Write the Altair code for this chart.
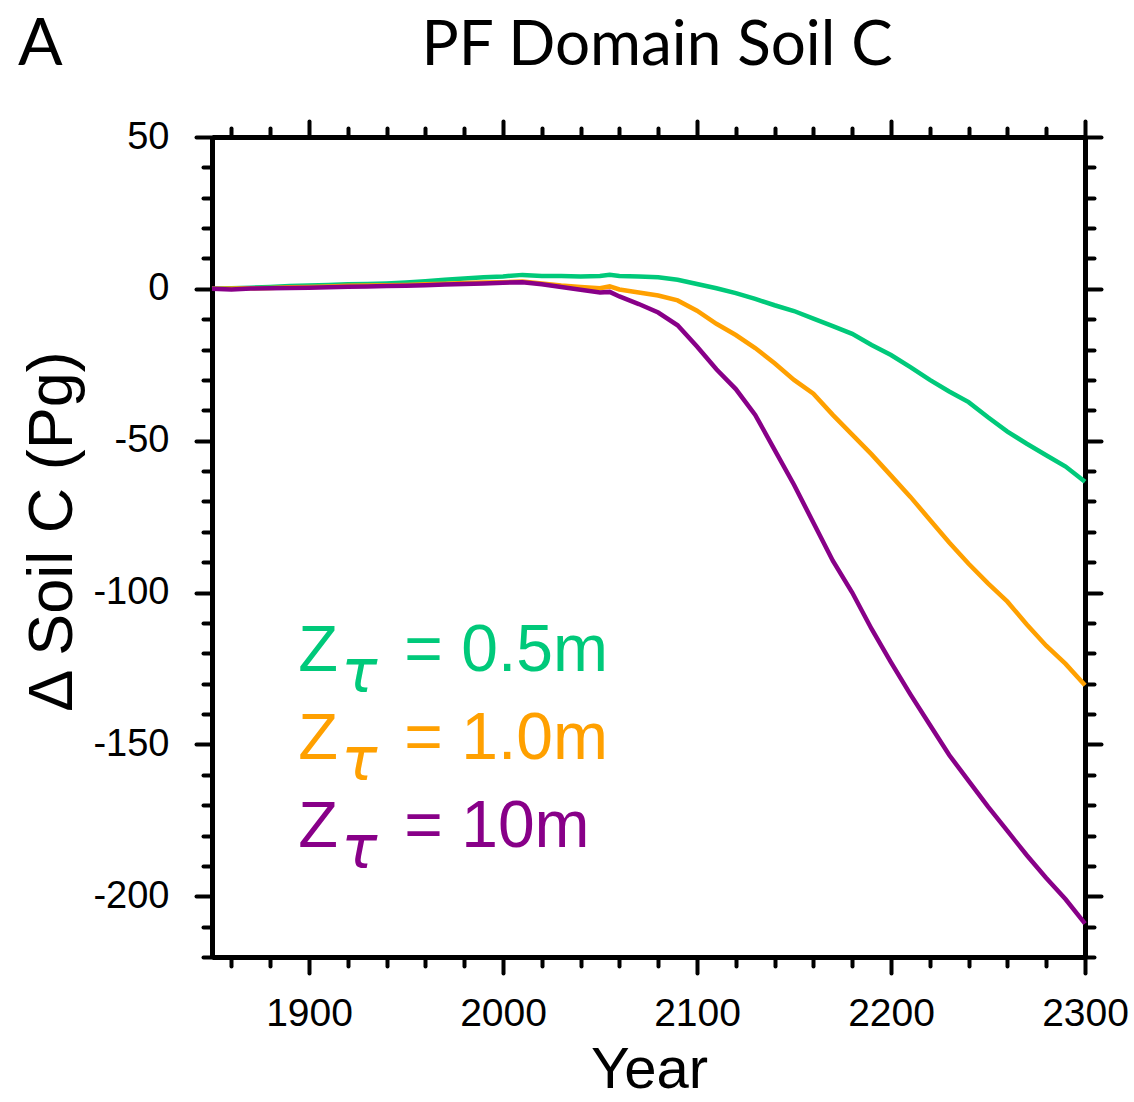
import altair as alt
import pandas as pd

# ---------------- data ----------------
years = [1850, 1860, 1870, 1880, 1890, 1900, 1910, 1920, 1930, 1940,
         1950, 1960, 1970, 1980, 1990, 2000, 2010, 2020, 2030, 2040,
         2050, 2055, 2060, 2070, 2080, 2090, 2100, 2110, 2120, 2130,
         2140, 2150, 2160, 2170, 2180, 2190, 2200, 2210, 2220, 2230,
         2240, 2250, 2260, 2270, 2280, 2290, 2300]

green = [0.0, 0.2, 0.4, 0.6, 0.9, 1.1, 1.3, 1.5, 1.6, 1.8,
         2.1, 2.5, 3.0, 3.4, 3.8, 4.1, 4.6, 4.2, 4.2, 4.1,
         4.2, 4.6, 4.2, 4.1, 3.8, 3.0, 1.6, 0.2, -1.4, -3.3,
         -5.4, -7.3, -9.8, -12.3, -14.8, -18.5, -21.8, -25.8, -30.0, -33.8,
         -37.3, -42.3, -47.0, -51.0, -54.8, -58.5, -63.5]

orange = [0.0, 0.1, 0.2, 0.3, 0.5, 0.6, 0.8, 1.0, 1.1, 1.2,
          1.3, 1.5, 1.7, 1.9, 2.1, 2.2, 2.4, 1.8, 1.1, 0.6,
          0.2, 0.8, -0.2, -1.2, -2.2, -3.8, -7.2, -11.5, -15.2, -19.5,
          -24.5, -30.0, -34.5, -41.5, -48.0, -54.5, -61.5, -68.5, -76.0, -83.5,
          -90.5, -97.0, -103.0, -110.5, -117.5, -123.5, -130.5]

purple = [0.0, -0.2, 0.1, 0.2, 0.3, 0.4, 0.5, 0.7, 0.8, 0.9,
          1.0, 1.2, 1.4, 1.6, 1.8, 2.0, 2.2, 1.5, 0.6, -0.3,
          -1.2, -1.0, -2.5, -5.0, -7.8, -12.0, -19.0, -26.5, -33.0, -41.5,
          -53.0, -64.5, -77.0, -89.5, -100.0, -112.0, -123.0, -133.5, -143.5, -153.5,
          -162.0, -170.5, -178.5, -186.5, -194.0, -201.0, -209.0]

series_names = ["0.5m", "1.0m", "10m"]
series_colors = ["#00C97A", "#FFA000", "#880088"]
legend_rest = ["= 0.5m", "= 1.0m", "= 10m"]

title_text = "PF Domain Soil C"
panel_letter = "A"
x_title = "Year"
y_title = "\u0394 Soil C (Pg)"

x_major = [1900, 2000, 2100, 2200, 2300]
x_minor = [1860, 1880, 1920, 1940, 1960, 1980, 2020, 2040, 2060, 2080,
           2120, 2140, 2160, 2180, 2220, 2240, 2260, 2280]
y_major = [-200, -150, -100, -50, 0, 50]
y_minor = [-220, -210, -190, -180, -170, -160, -140, -130, -120, -110,
           -90, -80, -70, -60, -40, -30, -20, -10, 10, 20, 30, 40]

# ---------------- tables ----------------
rows = []
for name, vals in zip(series_names, [green, orange, purple]):
    for yr, v in zip(years, vals):
        rows.append({"year": yr, "soilc": v, "series": name})
df = pd.DataFrame(rows)

# legend anchors (in data coordinates)
LEG_YEAR = 1894.5
LEG_VALS = [-125.8, -154.8, -183.8]
leg = pd.DataFrame({
    "year": [LEG_YEAR] * 3,
    "soilc": LEG_VALS,
    "series": series_names,
    "rest": legend_rest,
})

FONT = "Liberation Sans"
x_scale = alt.Scale(domain=[1850, 2300], nice=False, zero=False)
y_scale = alt.Scale(domain=[-220, 50], nice=False, zero=False)
color = alt.Color("series:N", scale=alt.Scale(domain=series_names, range=series_colors), legend=None)

common = dict(grid=False, domainColor="black", domainWidth=5, tickColor="black",
              tickWidth=4, tickCap="round", labelColor="black", labelFont=FONT)


def xaxis(orient, values, size, labels=False, title=False, domain=True):
    kw = dict(common)
    kw.update(orient=orient, values=values, tickSize=size, domain=domain)
    if labels:
        kw.update(labels=True, labelExpr="'' + datum.value", labelFontSize=39, labelPadding=21,
                  labelFlush=False, labelOverlap=False)
    else:
        kw.update(labels=False)
    if title:
        kw.update(title=x_title, titleFont=FONT, titleFontSize=58, titleFontWeight="normal",
                  titleColor="black", titleX=437, titleY=130, titleBaseline="alphabetic",
                  titleAlign="center")
    else:
        kw.update(title=None)
    return alt.Axis(**kw)


def yaxis(orient, values, size, labels=False, title=False, domain=True):
    kw = dict(common)
    kw.update(orient=orient, values=values, tickSize=size, domain=domain)
    if labels:
        kw.update(labels=True, labelExpr="'' + datum.value", labelFontSize=38, labelPadding=27,
                  labelOverlap=False, labelFlush=False)
    else:
        kw.update(labels=False)
    if title:
        kw.update(title=y_title, titleFont=FONT, titleFontSize=63, titleFontWeight="normal",
                  titleColor="black", titleX=-141, titleY=394, titleAngle=270,
                  titleBaseline="alphabetic", titleAlign="center")
    else:
        kw.update(title=None)
    return alt.Axis(**kw)


base = alt.Chart(df)

lines = base.mark_line(strokeWidth=4.5).encode(
    x=alt.X("year:Q", scale=x_scale, axis=xaxis("bottom", x_major, 16, labels=True, title=True)),
    y=alt.Y("soilc:Q", scale=y_scale, axis=yaxis("left", y_major, 16, labels=True, title=True)),
    color=color,
    detail="series:N",
)

minor_lb = base.mark_line(opacity=0).encode(
    x=alt.X("year:Q", scale=x_scale, axis=xaxis("bottom", x_minor, 9, domain=False)),
    y=alt.Y("soilc:Q", scale=y_scale, axis=yaxis("left", y_minor, 9, domain=False)),
    detail="series:N",
)

major_tr = base.mark_line(opacity=0).encode(
    x=alt.X("year:Q", scale=x_scale, axis=xaxis("top", x_major, 16)),
    y=alt.Y("soilc:Q", scale=y_scale, axis=yaxis("right", y_major, 16)),
    detail="series:N",
)

minor_tr = base.mark_line(opacity=0).encode(
    x=alt.X("year:Q", scale=x_scale, axis=xaxis("top", x_minor, 9, domain=False)),
    y=alt.Y("soilc:Q", scale=y_scale, axis=yaxis("right", y_minor, 9, domain=False)),
    detail="series:N",
)

legbase = alt.Chart(leg)
leg_enc = dict(
    x=alt.X("year:Q", scale=x_scale, axis=None),
    y=alt.Y("soilc:Q", scale=y_scale, axis=None),
    color=color,
)
leg_z = legbase.mark_text(font=FONT, fontSize=65, align="left", baseline="alphabetic").encode(
    text=alt.value("Z"), **leg_enc)
leg_tau = legbase.mark_text(font="DejaVu Sans", fontStyle="italic", fontSize=60,
                            align="left", baseline="alphabetic", dx=43, dy=21).encode(
    text=alt.value("\u03c4"), **leg_enc)
leg_rest = legbase.mark_text(font=FONT, fontSize=66, align="left", baseline="alphabetic", dx=106).encode(
    text="rest:N", **leg_enc)

tdf = pd.DataFrame({"t": [title_text], "a": [panel_letter]})
title_mark = alt.Chart(tdf).mark_text(font="Lato", fontSize=62, align="center",
                                      baseline="alphabetic", color="black").encode(
    x=alt.value(445), y=alt.value(-72), text="t:N")
letter_mark = alt.Chart(tdf).mark_text(font="Lato", fontSize=66, align="left",
                                       baseline="alphabetic", color="black").encode(
    x=alt.value(-194), y=alt.value(-72), text="a:N")

chart = alt.layer(
    lines, minor_lb, major_tr, minor_tr, leg_z, leg_tau, leg_rest, title_mark, letter_mark
).resolve_scale(
    x="shared", y="shared", color="shared"
).resolve_axis(
    x="independent", y="independent"
).properties(
    width=873, height=820,
    autosize=alt.AutoSizeParams(type="none"),
    padding={"left": 212, "top": 137, "right": 49, "bottom": 145},
    background="white",
).configure_view(strokeWidth=0)

chart.save("out.html", embed_options={"renderer": "svg", "actions": False})
